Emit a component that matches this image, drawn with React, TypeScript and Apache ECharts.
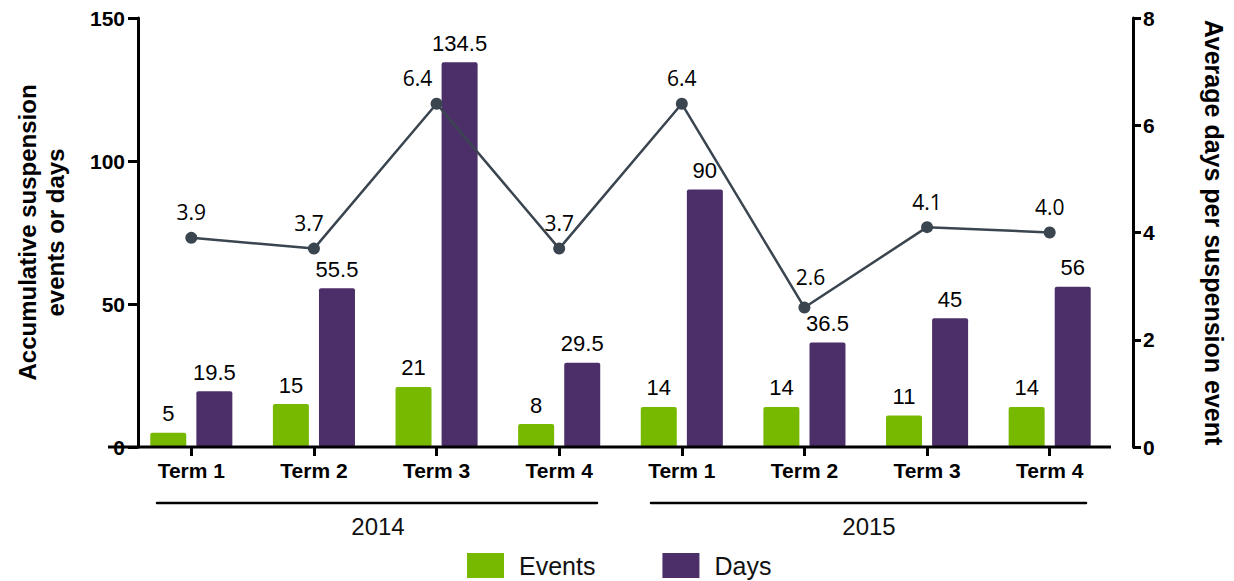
import React, { useEffect, useRef } from "react";
import * as echarts from "echarts";

const categories = ["Term 1", "Term 2", "Term 3", "Term 4", "Term 1", "Term 2", "Term 3", "Term 4"];
const events = [5, 15, 21, 8, 14, 14, 11, 14];
const days = [19.5, 55.5, 134.5, 29.5, 90, 36.5, 45, 56];
const avgDays = [3.9, 3.7, 6.4, 3.7, 6.4, 2.6, 4.1, 4.0];
const avgLabelOffsets = [[0, 0], [-5, 0], [-19, 0], [0, 0], [0, 0], [6, -5], [0, 0], [0, 0]];
const years = ["2014", "2015"];

const FONT = "Arial, 'Liberation Sans', sans-serif";
const GREEN = "#77b800";
const PURPLE = "#4c2f69";
const LINE = "#3a4550";

export default function App() {
  const ref = useRef<HTMLDivElement>(null);
  useEffect(() => {
    if (!ref.current) return;
    const chart = echarts.init(ref.current, null, { renderer: "svg" });
    const option: any = {
      animation: false,
      backgroundColor: "#ffffff",
      grid: { left: 130, right: 113, top: 18, bottom: 134, containLabel: false },
      legend: {
        data: ["Events", "Days"],
        left: 467,
        top: 553,
        padding: 0,
        icon: "rect",
        itemWidth: 37,
        itemHeight: 25,
        itemGap: 67,
        textStyle: { fontFamily: FONT, fontSize: 25, color: "#111", padding: [0, 0, 0, 10] },
      },
      xAxis: {
        type: "category",
        data: categories,
        axisLine: { show: false },
        axisTick: { show: true, alignWithLabel: true, length: 9, lineStyle: { color: "#000", width: 3 } },
        axisLabel: { fontFamily: FONT, fontSize: 21, fontWeight: "bold", color: "#000", margin: 13 },
      },
      yAxis: [
        {
          type: "value",
          min: 0,
          max: 150,
          interval: 50,
          offset: -8,
          name: "Accumulative suspension\nevents or days",
          nameLocation: "middle",
          nameRotate: 90,
          nameGap: 69,
          nameTextStyle: { fontFamily: FONT, fontSize: 24, fontWeight: "bold", color: "#000", lineHeight: 28 },
          axisLine: { show: true, lineStyle: { color: "#000", width: 3 } },
          axisTick: { show: true, length: 10, lineStyle: { color: "#000", width: 3 } },
          axisLabel: { fontFamily: FONT, fontSize: 21, fontWeight: "bold", color: "#000", margin: 13 },
          splitLine: { show: false },
        },
        {
          type: "value",
          min: 0,
          max: 8,
          interval: 2,
          offset: 22,
          position: "right",
          name: "Average days per suspension event",
          nameLocation: "middle",
          nameRotate: -90,
          nameGap: 68,
          nameTextStyle: { fontFamily: FONT, fontSize: 25, fontWeight: "bold", color: "#000" },
          axisLine: { show: true, lineStyle: { color: "#000", width: 3 } },
          axisTick: { show: true, length: 8, lineStyle: { color: "#000", width: 3 } },
          axisLabel: { fontFamily: FONT, fontSize: 21, fontWeight: "bold", color: "#000", margin: 10 },
          splitLine: { show: false },
        },
      ],
      series: [
        {
          name: "Events",
          type: "bar",
          data: events,
          barWidth: 36,
          barGap: "28%",
          itemStyle: { color: GREEN, borderRadius: 2 },
          label: { show: true, position: "top", distance: 8, fontFamily: FONT, fontSize: 22, color: "#000" },
        },
        {
          name: "Days",
          type: "bar",
          data: days,
          barWidth: 36,
          barGap: "28%",
          itemStyle: { color: PURPLE, borderRadius: 2 },
          label: { show: true, position: "top", distance: 8, fontFamily: FONT, fontSize: 22, color: "#000" },
        },
        {
          name: "Average",
          type: "line",
          yAxisIndex: 1,
          data: avgDays.map((v, i) => ({
            value: v,
            label: { offset: avgLabelOffsets[i] },
          })),
          symbol: "circle",
          symbolSize: 12,
          z: 5,
          lineStyle: { color: LINE, width: 2.5 },
          itemStyle: { color: LINE },
          label: {
            show: true,
            position: "top",
            distance: 9,
            fontFamily: "'Open Sans', 'Noto Sans', sans-serif",
            fontSize: 21,
            color: "#000",
            formatter: (p: any) => Number(p.value).toFixed(1),
          },
        },
      ],
      graphic: [
        { type: "line", shape: { x1: 108, y1: 447, x2: 1111, y2: 447 }, style: { stroke: "#000", lineWidth: 3 }, z: 10 },
        { type: "line", shape: { x1: 157, y1: 503, x2: 597, y2: 503 }, style: { stroke: "#000", lineWidth: 2.5, lineCap: "round" } },
        { type: "line", shape: { x1: 651, y1: 503, x2: 1086, y2: 503 }, style: { stroke: "#000", lineWidth: 2.5, lineCap: "round" } },
        { type: "text", x: 378, y: 526, style: { text: years[0], fontFamily: FONT, fontSize: 24, fill: "#111", textAlign: "center", textVerticalAlign: "middle" } },
        { type: "text", x: 869, y: 526, style: { text: years[1], fontFamily: FONT, fontSize: 24, fill: "#111", textAlign: "center", textVerticalAlign: "middle" } },
      ],
    };
    chart.setOption(option);
    return () => chart.dispose();
  }, []);
  return <div ref={ref} style={{ position: "absolute", left: 0, top: 0, width: 1234, height: 581 }} />;
}
